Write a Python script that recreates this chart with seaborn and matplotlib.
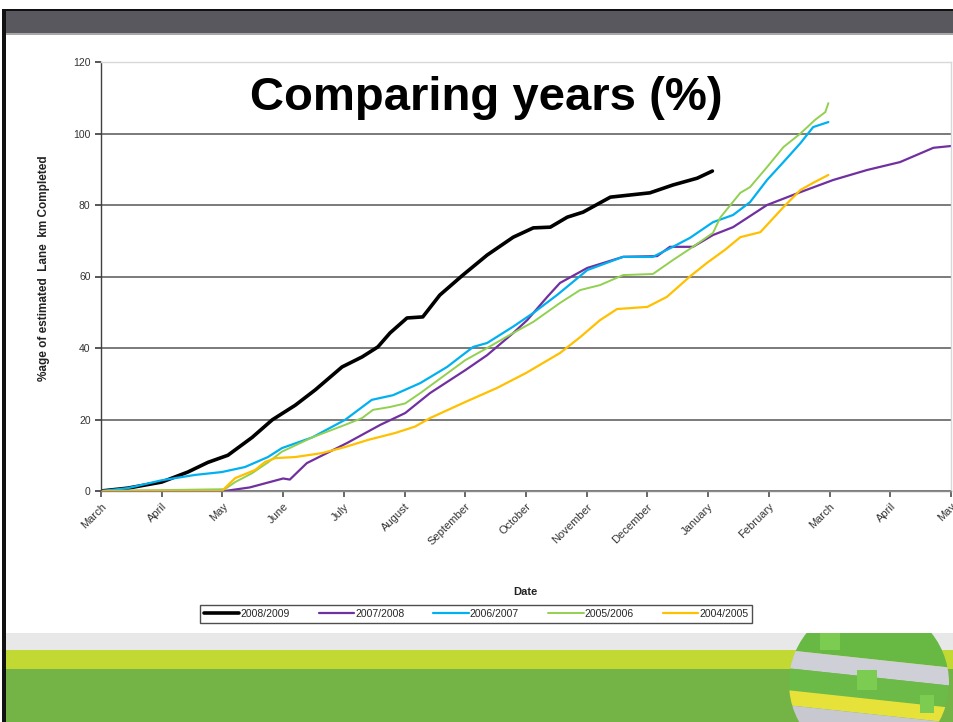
import pandas as pd
import matplotlib
matplotlib.use("Agg")
import matplotlib.pyplot as plt
import seaborn as sns
from matplotlib.patches import Rectangle, Circle, Polygon

# month labels along the x axis (x = months since 1 March)
months = ["March", "April", "May", "June", "July", "August", "September",
          "October", "November", "December", "January", "February",
          "March", "April", "May"]

# % of estimated lane km completed
x_0809 = [0, 0.44, 1.0, 1.43, 1.76, 2.09, 2.49, 2.82, 3.2, 3.53, 3.97, 4.3, 4.56,
          4.76, 5.04, 5.3, 5.58, 5.96, 6.36, 6.79, 7.12, 7.4, 7.68, 7.94, 8.39,
          9.04, 9.42, 9.82, 10.07]
y_0809 = [0, 0.8, 2.5, 5.3, 8, 10, 15, 19.9, 24, 28.3, 34.7, 37.5, 40.3,
          44.2, 48.4, 48.7, 54.8, 60.4, 66, 71, 73.6, 73.8, 76.6, 78, 82.2,
          83.4, 85.6, 87.5, 89.5]

x_0708 = [0, 2.04, 2.45, 2.78, 3.0, 3.11, 3.39, 4.05, 4.6, 5.01, 5.42, 6.0, 6.36,
          6.79, 7.02, 7.35, 7.56, 8.01, 8.6, 9.16, 9.37, 9.75, 10.08, 10.41,
          10.97, 11.52, 12.06, 12.62, 13.16, 13.71, 14.0]
y_0708 = [0, 0, 1, 2.5, 3.5, 3.2, 7.8, 13.4, 18.5, 21.8, 27.4, 33.8, 38,
          44.2, 47.8, 54.3, 58.2, 62.4, 65.5, 65.7, 68.3, 68.3, 71.6, 73.8,
          80, 83.6, 87, 89.8, 92, 96, 96.5]

x_0607 = [0, 0.44, 1.0, 1.55, 1.99, 2.37, 2.75, 2.98, 3.48, 4.02, 4.46, 4.81, 5.26,
          5.7, 6.13, 6.36, 6.79, 7.12, 7.51, 8.01, 8.6, 9.09, 9.42, 9.7, 10.08,
          10.41, 10.69, 10.97, 11.24, 11.52, 11.73, 11.98]
y_0607 = [0, 0.8, 3, 4.5, 5.3, 6.7, 9.5, 12, 15, 19.9, 25.5, 26.8, 30.2,
          34.7, 40.3, 41.4, 46, 49.8, 54.8, 61.8, 65.5, 65.5, 68.3, 70.8, 75.2,
          77.2, 80.8, 87, 92, 97.3, 101.8, 103.2]

x_0506 = [0, 2.04, 2.21, 2.49, 2.75, 2.98, 3.48, 4.02, 4.3, 4.48, 4.76, 5.01, 5.26,
          6.0, 6.36, 6.79, 7.12, 7.56, 7.89, 8.22, 8.6, 9.09, 9.42, 9.75, 10.08,
          10.2, 10.53, 10.69, 10.97, 11.24, 11.52, 11.76, 11.93, 11.98]
y_0506 = [0, 0.5, 2.5, 5, 8, 11, 15, 18.5, 20.4, 22.7, 23.5, 24.5, 27.4,
          36.6, 40, 44.2, 47.3, 52.6, 56.2, 57.6, 60.4, 60.7, 64.6, 68.3, 72.2,
          76.5, 83.4, 85, 90.6, 96.2, 100, 103.8, 106, 108.5]

x_0405 = [0, 1.99, 2.21, 2.54, 2.7, 2.87, 3.2, 3.64, 4.02, 4.4, 4.84, 5.17, 5.42,
          6.0, 6.52, 7.0, 7.56, 7.89, 8.22, 8.5, 9.0, 9.32, 9.7, 9.98, 10.28,
          10.53, 10.86, 11.24, 11.52, 11.73, 11.98]
y_0405 = [0, 0, 3.6, 5.9, 8.1, 9.2, 9.5, 10.6, 12.3, 14.3, 16.2, 18, 20.4,
          24.9, 28.8, 33, 38.6, 43, 47.8, 50.9, 51.5, 54.3, 60, 63.8, 67.5,
          71, 72.4, 79.4, 84.2, 86.2, 88.4]

seasons = ["2008/2009", "2007/2008", "2006/2007", "2005/2006", "2004/2005"]
colors = ["#000000", "#7030a0", "#00b0f0", "#92d050", "#ffc000"]
widths = [2.6, 1.6, 1.6, 1.4, 1.6]

df = pd.concat([
    pd.DataFrame({"month": x, "pct": y, "season": s})
    for x, y, s in zip([x_0809, x_0708, x_0607, x_0506, x_0405],
                       [y_0809, y_0708, y_0607, y_0506, y_0405], seasons)
])

sns.set_theme(style="white")
plt.rcParams['font.family'] = ['Liberation Sans', 'DejaVu Sans']

W, H = 954, 722
fig = plt.figure(figsize=(W / 100, H / 100), dpi=100)
fig.patch.set_facecolor("white")


def box(x0, y0, x1, y1, color, z=0):
    # rectangle given in pixel coords (top-left origin)
    fig.add_artist(Rectangle((x0 / W, 1 - y1 / H), (x1 - x0) / W, (y1 - y0) / H,
                             transform=fig.transFigure, facecolor=color,
                             edgecolor="none", zorder=z))


# slide decorations
box(3, 9, 954, 11, "#111111")
box(3, 11, 954, 33, "#58585e")
box(3, 33, 954, 35, "#a8a8a8")
box(3, 633, 954, 650, "#e8e8e8")
box(3, 650, 954, 669, "#c2d934")
box(3, 669, 954, 722, "#74b446")
box(2, 9, 6, 722, "#111111", z=1)

# logo sphere in the bottom right corner
lax = fig.add_axes([786 / W, 0, (W - 786) / W, (722 - 633) / H])
lax.set_xlim(786, W)
lax.set_ylim(722, 633)
lax.axis("off")
clip = Circle((869, 683), 80, transform=lax.transData)
stripes = [(600, 650, "#68b844"), (650, 668, "#cfcfd8"), (668, 690, "#6cba48"),
           (690, 705, "#e6e23a"), (705, 740, "#c8c8d0")]
for y0, y1, c in stripes:
    p = Polygon([(786, y0), (954, y0 + 18), (954, y1 + 18), (786, y1)],
                closed=True, facecolor=c, edgecolor="none")
    lax.add_patch(p)
    p.set_clip_path(clip)
for nx, ny, nw, nh in [(820, 633, 20, 17), (857, 670, 20, 20), (920, 695, 14, 18)]:
    n = Rectangle((nx, ny), nw, nh, facecolor="#7ccc52", edgecolor="none")
    lax.add_patch(n)
    n.set_clip_path(clip)

# chart
ax = fig.add_axes([101 / W, 1 - 491 / H, 850 / W, 429 / H])
for s, c, lw in zip(seasons, colors, widths):
    sns.lineplot(data=df[df["season"] == s], x="month", y="pct", ax=ax,
                 color=c, lw=lw, label=s, sort=False, estimator=None)

ax.set_xlim(0, 14)
ax.set_ylim(0, 120)
ax.set_yticks(range(0, 121, 20))
ax.set_xticks(range(15))
ax.set_xticklabels(months, rotation=45, ha="right", rotation_mode="anchor",
                   fontsize=8, color="#333333")
ax.tick_params(axis="y", labelsize=7.5, labelcolor="#333333", length=4,
               color="#404040", direction="out", left=True)
ax.tick_params(axis="x", length=4, color="#555555", direction="out", bottom=True)
ax.set_xlabel("")
ax.set_ylabel("")
ax.yaxis.grid(True, color="#7a7a7a", lw=1.4)
ax.set_axisbelow(True)
for side, col in [("left", "#404040"), ("bottom", "#8a8a8a"),
                  ("top", "#d8d8d8"), ("right", "#d8d8d8")]:
    ax.spines[side].set_color(col)
    ax.spines[side].set_linewidth(1.0)

ax.legend(loc="center", bbox_to_anchor=(476 / W, 1 - 614 / H),
          bbox_transform=fig.transFigure, ncol=5, fontsize=7.5, frameon=True,
          fancybox=False, edgecolor="#222222", handlelength=3.4,
          columnspacing=2.8, handletextpad=0.1, borderpad=0.35)

fig.text(486 / W, 1 - 98 / H, "Comparing years (%)", fontsize=34,
         fontweight="bold", color="black", ha="center", va="center")
fig.text(44 / W, 1 - 268 / H, "%age of estimated  Lane  km Completed",
         rotation=90, fontsize=8.5, fontweight="bold", color="#222222",
         ha="center", va="center")
fig.text(525 / W, 1 - 592 / H, "Date", fontsize=8, fontweight="bold",
         color="#222222", ha="center", va="center")

fig.savefig("out.png", dpi=100)
